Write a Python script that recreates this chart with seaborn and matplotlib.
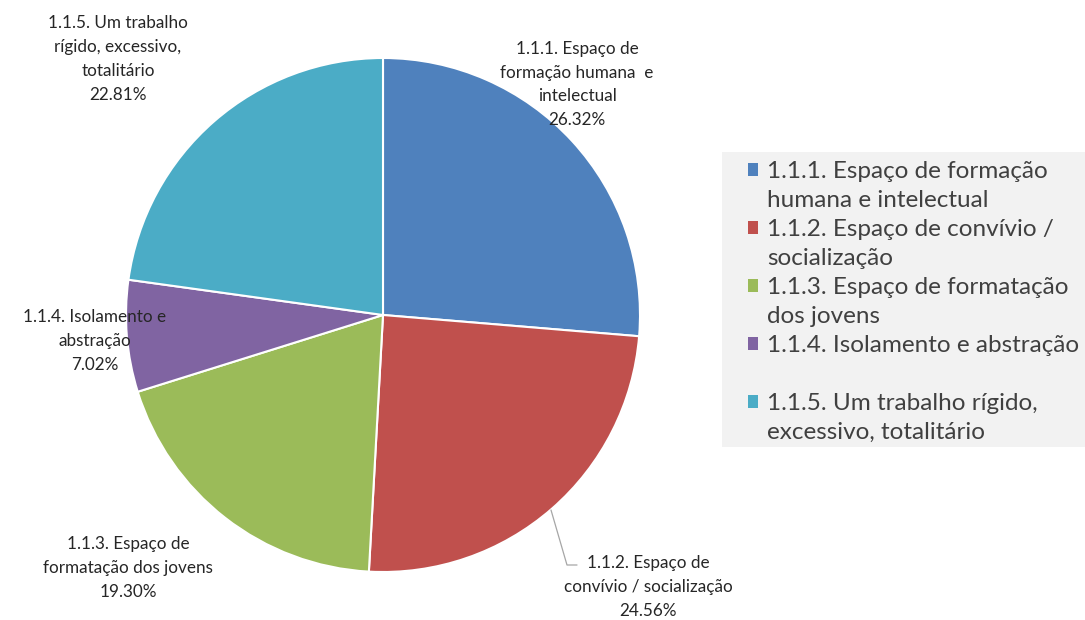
import matplotlib
matplotlib.use("Agg")
import matplotlib.pyplot as plt
import seaborn as sns
from matplotlib.patches import Patch, Rectangle

sns.set_theme(style="white")
plt.rcParams['font.family'] = ['Lato', 'DejaVu Sans']

# ---- data ----
categories = [
    "1.1.1. Espaço de formação humana e intelectual",
    "1.1.2. Espaço de convívio / socialização",
    "1.1.3. Espaço de formatação dos jovens",
    "1.1.4. Isolamento e abstração",
    "1.1.5. Um trabalho rígido, excessivo, totalitário",
]
values = [26.32, 24.56, 19.30, 7.02, 22.81]
slice_labels = [
    "1.1.1. Espaço de\nformação humana  e\nintelectual",
    "1.1.2. Espaço de\nconvívio / socialização",
    "1.1.3. Espaço de\nformatação dos jovens",
    "1.1.4. Isolamento e\nabstração",
    "1.1.5. Um trabalho\nrígido, excessivo,\ntotalitário",
]
legend_lines = [
    ["1.1.1. Espaço de formação", "humana e intelectual"],
    ["1.1.2. Espaço de convívio /", "socialização"],
    ["1.1.3. Espaço de formatação", "dos jovens"],
    ["1.1.4. Isolamento e abstração", ""],
    ["1.1.5. Um trabalho rígido,", "excessivo, totalitário"],
]
colors = ["#4F81BD", "#C0504D", "#9BBB59", "#8064A2", "#4BACC6"]

W, H = 1085, 620
fig = plt.figure(figsize=(W / 100, H / 100), dpi=100)
fig.patch.set_facecolor("white")

cx, cy, r = 383, 315, 257
ax = fig.add_axes([(cx - r) / W, (H - cy - r) / H, 2 * r / W, 2 * r / H])
wedges, _ = ax.pie(values, colors=colors, startangle=90, counterclock=False,
                   radius=1.0, wedgeprops=dict(edgecolor="white", linewidth=1.5))
ax.set_xlim(-1, 1)
ax.set_ylim(-1, 1)
ax.set_aspect("equal")
ax.axis("off")

def px2d(px, py):
    return ((px - cx) / r, (cy - py) / r)

label_pos = [(577, 84.5), (648, 587), (128, 568), (95, 341), (118, 59)]
text_color = "#262626"
for lab, v, (px, py) in zip(slice_labels, values, label_pos):
    x, y = px2d(px, py)
    ax.text(x, y, f"{lab}\n{v:.2f}%", ha="center", va="center", fontsize=12.3,
            color=text_color, linespacing=1.6, clip_on=False)

# leader line for 1.1.2
pts = [px2d(551, 510), px2d(567, 565), px2d(577, 565)]
ax.plot([p[0] for p in pts], [p[1] for p in pts], color="#a6a6a6", lw=0.9,
        clip_on=False)

# legend background
fig.patches.append(Rectangle((722 / W, 1 - 447 / H), (W - 722) / W, (447 - 152) / H,
                             transform=fig.transFigure, facecolor="#f2f2f2",
                             edgecolor="none", zorder=0))

handles, labels = [], []
for col, lines in zip(colors, legend_lines):
    handles.append(Patch(facecolor=col, edgecolor="none"))
    labels.append(lines[0])
    handles.append(Patch(facecolor="none", edgecolor="none"))
    labels.append(lines[1])

leg = fig.legend(handles, labels, loc="upper left",
                 bbox_to_anchor=(748 / W, 1 - 161 / H), frameon=False,
                 fontsize=17.5, handlelength=0.42, handleheight=0.42,
                 handletextpad=0.37, labelspacing=0.33, borderpad=0,
                 borderaxespad=0, labelcolor="#404040")

fig.savefig("out.png", dpi=100, facecolor="white")
